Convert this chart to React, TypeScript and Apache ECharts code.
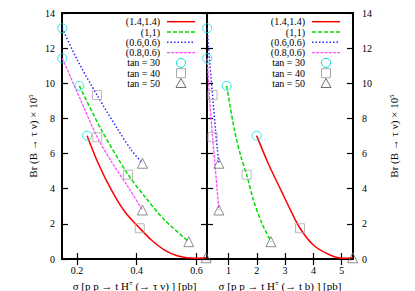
import React, { useEffect, useRef } from "react";
import * as echarts from "echarts";

// ---------- data ----------
const curveNames = ["(1.4,1.4)", "(1,1)", "(0.6,0.6)", "(0.8,0.6)"];
const tanNames = ["tan = 30", "tan = 40", "tan = 50"];

const yTicks = [0, 2, 4, 6, 8, 10, 12, 14];
const xTicksLeft = [0.2, 0.4, 0.6];
const xTicksRight = [1, 2, 3, 4, 5];

// left panel: sigma(pp -> t H+ (-> tau nu)) vs Br
const redL = [[0.234, 7.02], [0.271, 5.45], [0.315, 3.93], [0.36, 2.69], [0.41, 1.75], [0.449, 1.08], [0.493, 0.51], [0.538, 0.17], [0.593, 0.04], [0.632, 0.07]];
const greenL = [[0.208, 9.85], [0.282, 7.34], [0.371, 4.8], [0.427, 3.55], [0.493, 2.22], [0.574, 0.985]];
const blueL = [[0.151, 13.13], [0.201, 11.33], [0.267, 9.33], [0.338, 7.34], [0.382, 6.2], [0.419, 5.45]];
const magentaL = [[0.151, 11.42], [0.211, 9.1], [0.268, 6.93], [0.315, 5.55], [0.371, 4.1], [0.419, 2.79]];

// right panel: sigma(pp -> t H+ (-> t b)) vs Br
const redR = [[1.995, 7.02], [2.4, 5.45], [2.85, 3.93], [3.2, 2.75], [3.527, 1.75], [3.998, 0.8], [4.589, 0.23], [5.06, 0.04], [5.39, 0.07]];
const greenR = [[0.933, 9.85], [1.21, 7.34], [1.44, 5.82], [1.641, 4.8], [1.88, 3.36], [2.18, 2.03], [2.501, 0.985]];
const blueR = [[0.246, 13.13], [0.33, 11.3], [0.437, 9.33], [0.54, 7.34], [0.61, 6.2], [0.66, 5.45]];
const magentaR = [[0.246, 11.42], [0.33, 9.1], [0.437, 6.93], [0.52, 5.4], [0.6, 3.9], [0.66, 2.79]];

// markers (tan beta = 30, 40, 50) on each curve
const tan30L = [[0.234, 7.02], [0.208, 9.85], [0.151, 13.13], [0.151, 11.42]];
const tan40L = [[0.41, 1.75], [0.371, 4.8], [0.267, 9.33], [0.268, 6.93]];
const tan50L = [[0.632, 0.07], [0.574, 0.985], [0.419, 5.45], [0.419, 2.79]];
const tan30R = [[1.995, 7.02], [0.933, 9.85], [0.246, 13.13], [0.246, 11.42]];
const tan40R = [[3.527, 1.75], [1.641, 4.8], [0.437, 9.33], [0.437, 6.93]];
const tan50R = [[5.39, 0.07], [2.501, 0.985], [0.66, 5.45], [0.66, 2.79]];

// ---------- styles ----------
const FONT = '"Liberation Serif", "DejaVu Serif", serif';
const lineColors = ["#ff0000", "#00dd00", "#2a2aff", "#ff4cff"];
const lineDashes: any[] = ["solid", [4, 2], [1.5, 2], [3, 1.2]];
const lineWidths = [1.5, 1.5, 1.5, 1.3];
const markerSymbols = ["circle", "rect", "triangle"];
const markerColors = ["#00dede", "#a8a8a8", "#707070"];
const markerSizes = [9, 9, 10];

const W = 415, H = 291;
const panels = [
  { left: 62, width: 145, min: 0.15, max: 0.635, ticks: xTicksLeft, curves: [redL, greenL, blueL, magentaL], marks: [tan30L, tan40L, tan50L],
    xname: "σ [p p → t H{s|±} (→ τ ν) ] [pb]", legText: 160, legX1: 167, legX2: 195, legSym: 181 },
  { left: 207, width: 146, min: 0.24, max: 5.4, ticks: xTicksRight, curves: [redR, greenR, blueR, magentaR], marks: [tan30R, tan40R, tan50R],
    xname: "σ [p p → t H{s|±} (→ t b) ] [pb]", legText: 305, legX1: 312, legX2: 340, legSym: 326 },
];
const TOP = 13, PH = 246;

function App() {
  const ref = useRef<HTMLDivElement>(null);
  useEffect(() => {
    if (!ref.current) return;
    const chart = echarts.init(ref.current, null, { renderer: "svg" });

    const tickStyle = { color: "#000", width: 1.2 };
    const nameStyle = {
      fontFamily: FONT, fontSize: 11, color: "#000", lineHeight: 12,
      rich: { s: { fontFamily: FONT, fontSize: 7, color: "#000", verticalAlign: "top", lineHeight: 12 } },
    };
    const grids: any[] = [];
    const xAxes: any[] = [];
    const yAxes: any[] = [];
    const series: any[] = [];
    const graphics: any[] = [];

    panels.forEach((p, pi) => {
      grids.push({ left: p.left, top: TOP, width: p.width, height: PH, show: true, borderColor: "#000", borderWidth: 2,
        backgroundColor: "transparent", containLabel: false, outerBoundsMode: "none" });
      // bottom x axis
      xAxes.push({
        type: "value", gridIndex: pi, position: "bottom", min: p.min, max: p.max,
        axisLine: { show: false }, splitLine: { show: false },
        axisTick: { show: true, inside: true, length: 6, lineStyle: tickStyle, customValues: p.ticks },
        axisLabel: { show: true, customValues: p.ticks, color: "#000", fontFamily: FONT, fontSize: 10, margin: 6 },
        name: p.xname, nameLocation: "middle", nameGap: 19, nameTextStyle: nameStyle,
      });
      // top x axis (mirror ticks)
      xAxes.push({
        type: "value", gridIndex: pi, position: "top", min: p.min, max: p.max,
        axisLine: { show: false }, splitLine: { show: false }, axisLabel: { show: false },
        axisTick: { show: true, inside: true, length: 6, lineStyle: tickStyle, customValues: p.ticks },
      });
      const yBase = { type: "value", gridIndex: pi, min: 0, max: 14, interval: 2, axisLine: { show: false }, splitLine: { show: false },
        axisTick: { show: true, inside: true, length: 6, lineStyle: tickStyle, customValues: yTicks } };
      const yName = "Br (B → τ ν) × 10{s|5}";
      yAxes.push({
        ...yBase, position: "left",
        axisLabel: { show: pi === 0, customValues: yTicks, color: "#000", fontFamily: FONT, fontSize: 10, margin: 7 },
        ...(pi === 0 ? { name: yName, nameLocation: "middle", nameGap: 23, nameRotate: 90, nameTextStyle: nameStyle } : {}),
      });
      yAxes.push({
        ...yBase, position: "right",
        axisLabel: { show: pi === 1, customValues: yTicks, color: "#000", fontFamily: FONT, fontSize: 10, margin: 9 },
        ...(pi === 1 ? { name: yName, nameLocation: "middle", nameGap: 35, nameRotate: 90, nameTextStyle: nameStyle } : {}),
      });

      p.curves.forEach((c, ci) => {
        series.push({
          type: "line", name: curveNames[ci], xAxisIndex: pi * 2, yAxisIndex: pi * 2, data: c,
          showSymbol: false, smooth: 0.3, clip: false, z: 2,
          lineStyle: { color: lineColors[ci], width: lineWidths[ci], type: lineDashes[ci] },
        });
      });
      p.marks.forEach((m, mi) => {
        series.push({
          type: "scatter", name: tanNames[mi], xAxisIndex: pi * 2, yAxisIndex: pi * 2, data: m,
          symbol: markerSymbols[mi], symbolSize: markerSizes[mi], clip: false, z: 3,
          itemStyle: { color: "rgba(0,0,0,0)", borderColor: markerColors[mi], borderWidth: 1 },
        });
      });

      // key
      const allNames = [...curveNames, ...tanNames];
      allNames.forEach((nm, i) => {
        const y = 21.7 + i * 10.3;
        graphics.push({ type: "text", x: p.legText, y, style: { text: nm, fill: "#000", fontFamily: FONT, fontSize: 10, align: "right", verticalAlign: "middle" } });
        if (i < 4) {
          const d = lineDashes[i];
          graphics.push({ type: "line", shape: { x1: p.legX1, y1: y, x2: p.legX2, y2: y },
            style: { stroke: lineColors[i], lineWidth: lineWidths[i], lineDash: d === "solid" ? null : d } });
        } else {
          const k = i - 4;
          const cx = p.legSym, cy = y;
          const st = { fill: "none", stroke: markerColors[k], lineWidth: 1 };
          if (k === 0) graphics.push({ type: "circle", shape: { cx, cy, r: 4.5 }, style: st });
          else if (k === 1) graphics.push({ type: "rect", shape: { x: cx - 4.5, y: cy - 4.5, width: 9, height: 9 }, style: st });
          else graphics.push({ type: "polygon", shape: { points: [[cx, cy - 5], [cx + 5, cy + 4], [cx - 5, cy + 4]] }, style: st });
        }
      });
    });

    chart.setOption({
      animation: false,
      backgroundColor: "#fff",
      grid: grids,
      xAxis: xAxes,
      yAxis: yAxes,
      series,
      graphic: graphics,
    });
    return () => chart.dispose();
  }, []);
  return <div ref={ref} style={{ position: "fixed", left: 0, top: 0, width: W, height: H }} />;
}

export default App;
